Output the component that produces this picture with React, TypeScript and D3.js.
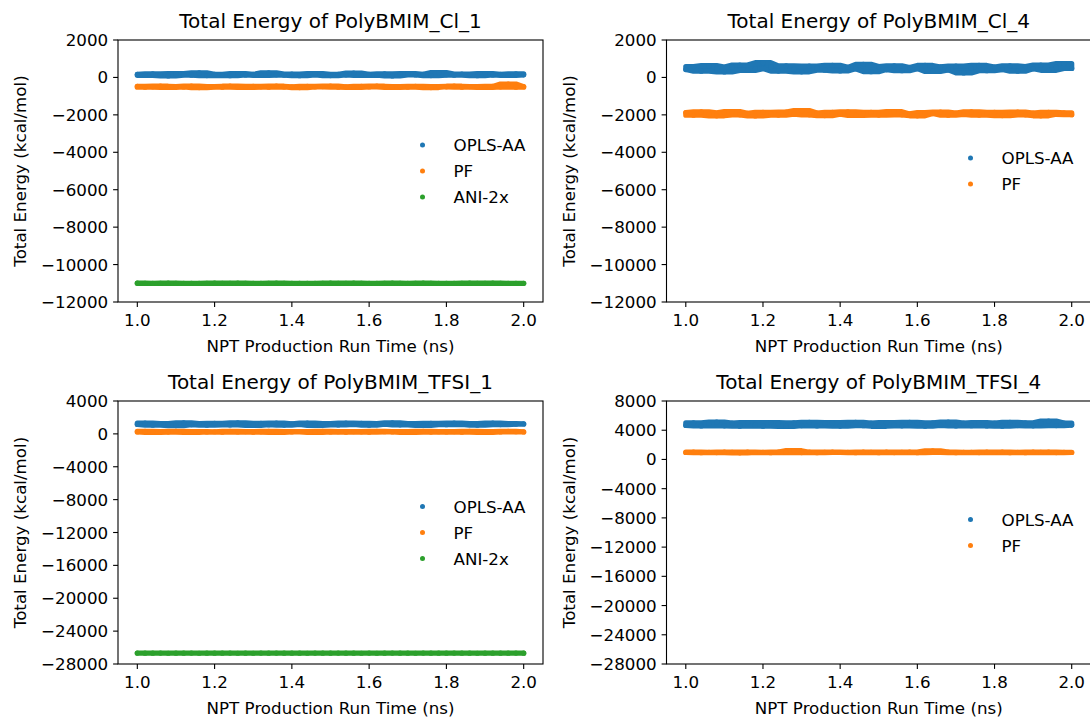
import React from "react";
import * as d3 from "d3";

// Sample times of the NPT production run (ns)
const TIMES = [
  1.0, 1.02, 1.04, 1.06, 1.08, 1.1, 1.12, 1.14, 1.16, 1.18,
  1.2, 1.22, 1.24, 1.26, 1.28, 1.3, 1.32, 1.34, 1.36, 1.38,
  1.4, 1.42, 1.44, 1.46, 1.48, 1.5, 1.52, 1.54, 1.56, 1.58,
  1.6, 1.62, 1.64, 1.66, 1.68, 1.7, 1.72, 1.74, 1.76, 1.78,
  1.8, 1.82, 1.84, 1.86, 1.88, 1.9, 1.92, 1.94, 1.96, 1.98,
  2.0,
];

// Total energies (kcal/mol), PolyBMIM_Cl_1
const CL1_OPLS = [
  160, 110, 190, 130, 80, 210, 150, 120, 240, 100,
  170, 140, 90, 200, 130, 160, 110, 250, 140, 120,
  180, 90, 150, 210, 130, 100, 170, 140, 230, 110,
  160, 120, 190, 80, 150, 200, 130, 170, 100, 260,
  140, 120, 180, 150, 90, 210, 130, 160, 110, 190,
  140,
];
const CL1_PF = [
  -480, -520, -500, -470, -530, -490, -510, -460, -540, -500,
  -490, -520, -470, -510, -530, -480, -500, -520, -470, -510,
  -500, -540, -480, -510, -490, -460, -520, -500, -530, -480,
  -510, -470, -500, -530, -490, -520, -480, -510, -540, -490,
  -500, -470, -520, -490, -510, -530, -480, -500, -350, -520,
  -490,
];
const CL1_ANI = [
  -10995, -11004, -10999, -11008, -10993, -11002, -11006, -10997, -11001, -11009,
  -10996, -11003, -11000, -10992, -11005, -10998, -11007, -11001, -10994, -11004,
  -10999, -11006, -10997, -11002, -11008, -10995, -11000, -11005, -10993, -11003,
  -10998, -11007, -11001, -10996, -11004, -10999, -11009, -10994, -11002, -11006,
  -10997, -11003, -11000, -10995, -11008, -11001, -10996, -11005, -10998, -11002,
  -11000,
];

// Total energies (kcal/mol), PolyBMIM_Cl_4
const CL4_OPLS = [
  420, 580, 330, 630, 480, 290, 550, 660, 370, 470,
  790, 560, 340, 620, 450, 300, 600, 500, 390, 650,
  350, 540, 460, 700, 310, 580, 420, 620, 360, 530,
  470, 640, 320, 560, 400, 600, 240, 500, 640, 360,
  550, 420, 620, 330, 580, 460, 660, 380, 540, 740,
  480,
];
const CL4_PF = [
  -1880, -2020, -1840, -1970, -2050, -1890, -1820, -2000, -1920, -2060,
  -1860, -1950, -2010, -1850, -1960, -1770, -2000, -1900, -2040, -1870,
  -1970, -1840, -2030, -1930, -1870, -2010, -1890, -1830, -2000, -1950,
  -2050, -1880, -1930, -1850, -2020, -1910, -1980, -1840, -2010, -1900,
  -1870, -2040, -1940, -1850, -2000, -1910, -2050, -1860, -1970, -1890,
  -1990,
];

// Total energies (kcal/mol), PolyBMIM_TFSI_1
const TFSI1_OPLS = [
  1150, 1310, 1060, 1260, 1190, 1010, 1330, 1130, 1240, 1050,
  1290, 1170, 1080, 1350, 1210, 1040, 1270, 1120, 1310, 1070,
  1230, 1150, 1320, 1030, 1250, 1180, 1090, 1300, 1140, 1270,
  1060, 1240, 1190, 1340, 1100, 1260, 1150, 1020, 1290, 1200,
  1110, 1310, 1160, 1250, 1050, 1220, 1300, 1130, 1260, 1180,
  1230,
];
const TFSI1_PF = [
  240, 300, 190, 270, 220, 310, 250, 180, 290, 230,
  260, 200, 320, 240, 280, 210, 250, 300, 190, 270,
  230, 290, 250, 180, 310, 240, 270, 210, 280, 250,
  200, 300, 260, 230, 290, 190, 250, 320, 220, 270,
  240, 280, 210, 300, 250, 190, 270, 230, 310, 260,
  240,
];
const TFSI1_ANI = [
  -26675, -26688, -26681, -26670, -26692, -26679, -26684, -26673, -26690, -26682,
  -26677, -26686, -26671, -26689, -26680, -26693, -26676, -26685, -26672, -26683,
  -26688, -26678, -26691, -26674, -26682, -26687, -26670, -26684, -26679, -26692,
  -26676, -26689, -26681, -26673, -26686, -26680, -26690, -26675, -26683, -26678,
  -26687, -26672, -26685, -26681, -26691, -26677, -26684, -26679, -26688, -26674,
  -26682,
];

// Total energies (kcal/mol), PolyBMIM_TFSI_4
const TFSI4_OPLS = [
  4650, 5020, 4580, 4950, 5100, 4600, 4980, 4550, 5060, 4700,
  4560, 5040, 4900, 4520, 5010, 4640, 5080, 4590, 4960, 5030,
  4570, 4920, 5090, 4610, 4990, 4540, 5050, 4680, 4600, 5070,
  4940, 4560, 5020, 4650, 5110, 4580, 4970, 4620, 5060, 4590,
  4980, 4550, 5090, 4640, 5010, 4600, 4950, 5250, 4630, 4990,
  4700,
];
const TFSI4_PF = [
  950, 1000, 920, 980, 940, 1010, 960, 910, 990, 950,
  970, 930, 1000, 960, 1200, 940, 990, 920, 970, 1010,
  950, 980, 930, 1000, 960, 920, 990, 940, 970, 1000,
  930, 960, 1190, 950, 1000, 920, 980, 960, 940, 990,
  950, 1010, 930, 970, 920, 990, 960, 1000, 940, 970,
  950,
];

const X_TICKS = [1.0, 1.2, 1.4, 1.6, 1.8, 2.0];
const Y_TICKS_CL = [2000, 0, -2000, -4000, -6000, -8000, -10000, -12000];
const Y_TICKS_TFSI1 = [4000, 0, -4000, -8000, -12000, -16000, -20000, -24000, -28000];
const Y_TICKS_TFSI4 = [8000, 4000, 0, -4000, -8000, -12000, -16000, -20000, -24000, -28000];

const COLORS = { opls: "#1f77b4", pf: "#ff7f0e", ani: "#2ca02c" };
const FONT = "'DejaVu Sans', sans-serif";

type Series = { name: string; color: string; values: number[] };
type Panel = {
  title: string;
  yTicks: number[];
  series: Series[];
  box: { left: number; right: number; top: number; bottom: number };
};

const LEFT_BOX = { left: 118, right: 543 };
const RIGHT_BOX = { left: 666.5, right: 1091 };
const TOP_ROW = { top: 40, bottom: 302 };
const BOTTOM_ROW = { top: 401, bottom: 664 };

const PANELS: Panel[] = [
  {
    title: "Total Energy of PolyBMIM_Cl_1",
    yTicks: Y_TICKS_CL,
    series: [
      { name: "OPLS-AA", color: COLORS.opls, values: CL1_OPLS },
      { name: "PF", color: COLORS.pf, values: CL1_PF },
      { name: "ANI-2x", color: COLORS.ani, values: CL1_ANI },
    ],
    box: { ...LEFT_BOX, ...TOP_ROW },
  },
  {
    title: "Total Energy of PolyBMIM_Cl_4",
    yTicks: Y_TICKS_CL,
    series: [
      { name: "OPLS-AA", color: COLORS.opls, values: CL4_OPLS },
      { name: "PF", color: COLORS.pf, values: CL4_PF },
    ],
    box: { ...RIGHT_BOX, ...TOP_ROW },
  },
  {
    title: "Total Energy of PolyBMIM_TFSI_1",
    yTicks: Y_TICKS_TFSI1,
    series: [
      { name: "OPLS-AA", color: COLORS.opls, values: TFSI1_OPLS },
      { name: "PF", color: COLORS.pf, values: TFSI1_PF },
      { name: "ANI-2x", color: COLORS.ani, values: TFSI1_ANI },
    ],
    box: { ...LEFT_BOX, ...BOTTOM_ROW },
  },
  {
    title: "Total Energy of PolyBMIM_TFSI_4",
    yTicks: Y_TICKS_TFSI4,
    series: [
      { name: "OPLS-AA", color: COLORS.opls, values: TFSI4_OPLS },
      { name: "PF", color: COLORS.pf, values: TFSI4_PF },
    ],
    box: { ...RIGHT_BOX, ...BOTTOM_ROW },
  },
];

const FS = 16.7;
const TITLE_FS = 20;
const DOT_R = 2.6;
const TICK_LEN = 4.9;

function formatTick(v: number) {
  return v < 0 ? "\u2212" + Math.abs(v) : String(v);
}

function PanelView({ p }: { p: Panel }) {
  const { left, right, top, bottom } = p.box;
  const x = d3.scaleLinear().domain([0.95, 2.05]).range([left, right]);
  const yMax = d3.max(p.yTicks) as number;
  const yMin = d3.min(p.yTicks) as number;
  const y = d3.scaleLinear().domain([yMin, yMax]).range([bottom, top]);
  const cx = (left + right) / 2;
  const cy = (top + bottom) / 2;

  // The run is sampled far more densely than the stored points, so the
  // cloud between neighbouring samples is filled as a band.
  const band = (vals: number[]) =>
    d3
      .area<number>()
      .x((_, i) => x(TIMES[i]))
      .y0((_, i) => y(d3.min(vals.slice(Math.max(0, i - 1), i + 2)) as number))
      .y1((_, i) => y(d3.max(vals.slice(Math.max(0, i - 1), i + 2)) as number))(vals) ?? "";

  const legendSpacing = 26;
  const n = p.series.length;
  const legendX = right - 120.5;

  return (
    <g>
      {p.series.map((s) => (
        <g key={s.name}>
          <path
            d={band(s.values)}
            fill={s.color}
            stroke={s.color}
            strokeWidth={DOT_R * 2}
            strokeLinejoin="round"
            strokeLinecap="round"
          />
          {s.values.map((v, i) => (
            <circle key={i} cx={x(TIMES[i])} cy={y(v)} r={DOT_R} fill={s.color} />
          ))}
        </g>
      ))}

      {/* frame */}
      <rect
        x={left}
        y={top}
        width={right - left}
        height={bottom - top}
        fill="none"
        stroke="#000"
        strokeWidth={1.1}
      />

      {/* x axis */}
      {X_TICKS.map((t) => (
        <g key={t}>
          <line x1={x(t)} x2={x(t)} y1={bottom} y2={bottom + TICK_LEN} stroke="#000" strokeWidth={1.1} />
          <text
            x={x(t)}
            y={bottom + 11}
            dy="0.76em"
            textAnchor="middle"
            fontSize={FS}
            fontFamily={FONT}
          >
            {t.toFixed(1)}
          </text>
        </g>
      ))}
      <text
        x={cx}
        y={bottom + 37}
        dy="0.76em"
        textAnchor="middle"
        fontSize={FS}
        fontFamily={FONT}
      >
        NPT Production Run Time (ns)
      </text>

      {/* y axis */}
      {p.yTicks.map((t) => (
        <g key={t}>
          <line x1={left - TICK_LEN} x2={left} y1={y(t)} y2={y(t)} stroke="#000" strokeWidth={1.1} />
          <text
            x={left - 9.8}
            y={y(t)}
            dy="0.36em"
            textAnchor="end"
            fontSize={FS}
            fontFamily={FONT}
          >
            {formatTick(t)}
          </text>
        </g>
      ))}
      <text
        transform={`translate(${left - 98},${cy}) rotate(-90)`}
        textAnchor="middle"
        dy="0.36em"
        fontSize={FS}
        fontFamily={FONT}
      >
        Total Energy (kcal/mol)
      </text>

      {/* title */}
      <text x={cx} y={top - 12.5} textAnchor="middle" fontSize={TITLE_FS} fontFamily={FONT}>
        {p.title}
      </text>

      {/* legend, centred at right */}
      {p.series.map((s, i) => {
        const ly = cy + (i - (n - 1) / 2) * legendSpacing;
        return (
          <g key={s.name}>
            <circle cx={legendX} cy={ly} r={2.5} fill={s.color} />
            <text x={legendX + 31} y={ly} dy="0.36em" fontSize={FS} fontFamily={FONT}>
              {s.name}
            </text>
          </g>
        );
      })}
    </g>
  );
}

export default function App() {
  return (
    <svg
      width={1090}
      height={719}
      style={{ position: "absolute", left: 0, top: 0, background: "#fff" }}
    >
      <rect width={1090} height={719} fill="#fff" />
      {PANELS.map((p) => (
        <PanelView key={p.title} p={p} />
      ))}
    </svg>
  );
}
